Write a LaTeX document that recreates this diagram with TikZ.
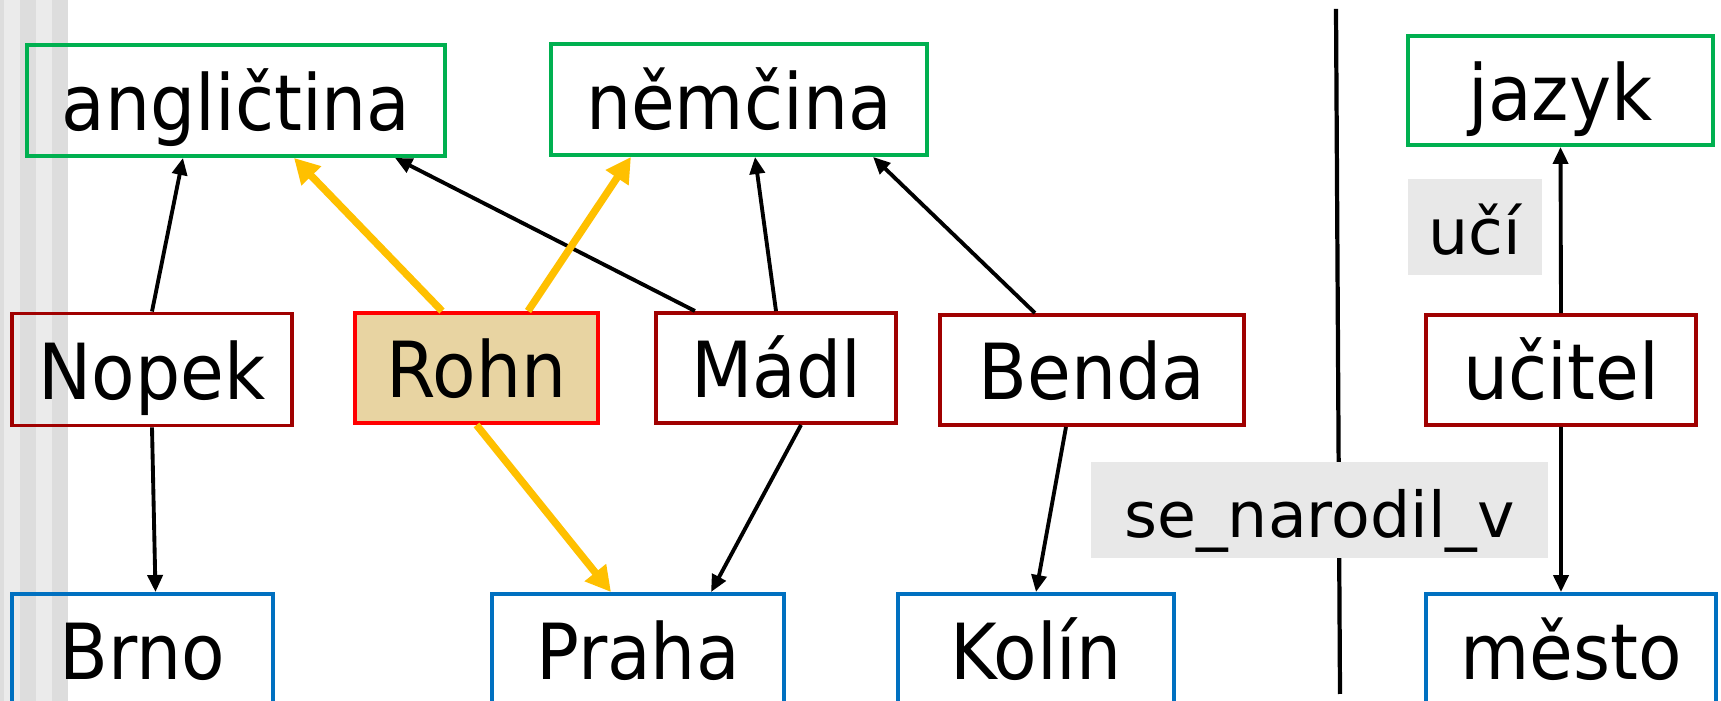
\documentclass[tikz,border=0pt]{standalone}
\usepackage{fontspec}
\setmainfont[FakeStretch=0.92]{DejaVu Sans}
\newfontfamily\tagfont{DejaVu Sans}
\usetikzlibrary{arrows.meta}
\definecolor{langgreen}{RGB}{0,176,80}
\definecolor{persred}{RGB}{160,0,0}
\definecolor{cityblue}{RGB}{0,112,192}
\definecolor{hiyellow}{RGB}{255,192,0}
\definecolor{papyrus}{RGB}{232,212,162}
\definecolor{taggray}{RGB}{232,232,232}
\definecolor{stripeA}{RGB}{221,221,221}
\definecolor{stripeB}{RGB}{235,235,235}
\begin{document}
\begin{tikzpicture}[x=0.01cm,y=-0.01cm,
    txt/.style={inner sep=0pt,text height=0.69cm,text depth=0.1cm,font=\fontsize{22}{26}\selectfont},
    box/.style={txt,draw,line width=1.1pt},
    lang/.style={box,draw=langgreen},
    person/.style={box,draw=persred},
    city/.style={box,draw=cityblue},
    tag/.style={inner sep=0pt,text height=0.64cm,text depth=0.1cm,fill=taggray,font=\tagfont\fontsize{18}{22}\selectfont},
    link/.style={-{Triangle[length=1.7mm,width=1.5mm]},line width=1.1pt},
    hilite/.style={-{Triangle[length=2.5mm,width=2.6mm]},line width=2.1pt,draw=hiyellow}]
  \useasboundingbox (0,0) rectangle (1721,701);
  % stripes on the left
  \fill[stripeA] (0,0) rectangle (4,701);
  \fill[stripeB] (4,0) rectangle (20,701);
  \fill[stripeA] (20,0) rectangle (36,701);
  \fill[stripeB] (36,0) rectangle (52,701);
  \fill[stripeA] (52,0) rectangle (68,701);
  % divider
  \draw[line width=1.2pt] (1336,9) -- (1340,694);

  \node[lang,minimum width=4.18cm,minimum height=1.11cm] (anglictina) at (236,100.5) {angličtina};
  \node[lang,minimum width=3.76cm,minimum height=1.11cm] (nemcina) at (739,99.5) {němčina};
  \node[lang,minimum width=3.05cm,minimum height=1.09cm] (jazyk) at (1560.5,90.5) {jazyk};

  \node[person,minimum width=2.80cm,minimum height=1.12cm] (Nopek) at (152,369.5) {Nopek};
  \node[person,draw=red,fill=papyrus,minimum width=2.43cm,minimum height=1.10cm] (Rohn) at (476.5,368) {Rohn};
  \node[person,minimum width=2.40cm,minimum height=1.10cm] (Madl) at (776,368) {Mádl};
  \node[person,minimum width=3.04cm,minimum height=1.10cm] (Benda) at (1092,370) {Benda};
  \node[person,minimum width=2.70cm,minimum height=1.10cm] (ucitel) at (1561,370) {učitel};

  \node[city,minimum width=2.61cm,minimum height=1.11cm] (Brno) at (142.5,649.5) {Brno};
  \node[city,minimum width=2.92cm,minimum height=1.11cm] (Praha) at (638,649.5) {Praha};
  \node[city,minimum width=2.76cm,minimum height=1.11cm] (Kolin) at (1036,649.5) {Kolín};
  \node[city,minimum width=2.90cm,minimum height=1.11cm] (mesto) at (1571,649.5) {město};

  \node[tag,minimum width=1.34cm,minimum height=0.96cm] (uci) at (1475,227) {učí};
  \node[tag,minimum width=4.57cm,minimum height=0.96cm] (narodil) at (1319.5,510) {se\_narodil\_v};

  \draw[link] (Nopek.north) -- ([xshift=-5.3mm]anglictina.south);
  \draw[link] (Nopek.south) -- ([xshift=1.3mm]Brno.north);
  \draw[link] ([xshift=-8.1mm]Madl.north) -- ([xshift=15.9mm]anglictina.south);
  \draw[link] (Madl.north) -- ([xshift=1.6mm]nemcina.south);
  \draw[link] ([xshift=2.5mm]Madl.south) -- ([xshift=7.3mm]Praha.north);
  \draw[link] ([xshift=-5.7mm]Benda.north) -- ([xshift=13.4mm]nemcina.south);
  \draw[link] ([xshift=-2.6mm]Benda.south) -- (Kolin.north);
  \draw[link] (ucitel.north) -- (jazyk.south);
  \draw[link] (ucitel.south) -- ([xshift=-1mm]mesto.north);

  \draw[hilite] ([xshift=-3.45mm]Rohn.north) -- ([xshift=5.8mm]anglictina.south);
  \draw[hilite] ([xshift=5.15mm]Rohn.north) -- ([xshift=-10.8mm]nemcina.south);
  \draw[hilite] (Rohn.south) -- ([xshift=-2.7mm]Praha.north);
\end{tikzpicture}
\end{document}
